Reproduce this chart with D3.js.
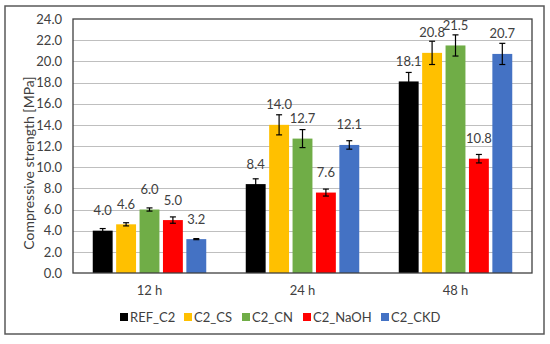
<!DOCTYPE html>
<html>
<head>
<meta charset="utf-8">
<script src="https://cdn.jsdelivr.net/npm/d3@7"></script>
<style>
  html, body { margin: 0; padding: 0; background: #fff; }
  svg { display: block; }
  text { font-family: Lato, "Open Sans", sans-serif; fill: #404040; }
</style>
</head>
<body>
<svg id="chart" width="550" height="344"></svg>
<script>
const categories = ["12 h", "24 h", "48 h"];
const seriesNames = ["REF_C2", "C2_CS", "C2_CN", "C2_NaOH", "C2_CKD"];
const seriesColors = ["#000000", "#FFC000", "#70AD47", "#FF0000", "#4472C4"];
const REF_C2  = [4.0, 8.4, 18.1];
const C2_CS   = [4.6, 14.0, 20.8];
const C2_CN   = [6.0, 12.7, 21.5];
const C2_NaOH = [5.0, 7.6, 10.8];
const C2_CKD  = [3.2, 12.1, 20.7];
const err_REF_C2  = [0.2, 0.5, 0.85];
const err_C2_CS   = [0.15, 0.95, 1.1];
const err_C2_CN   = [0.15, 0.85, 1.0];
const err_C2_NaOH = [0.3, 0.33, 0.4];
const err_C2_CKD  = [0.05, 0.4, 1.0];
const yTicks = [0, 2, 4, 6, 8, 10, 12, 14, 16, 18, 20, 22, 24];
const yTitle = "Compressive strength [MPa]";

const values = [REF_C2, C2_CS, C2_CN, C2_NaOH, C2_CKD];
const errors = [err_REF_C2, err_C2_CS, err_C2_CN, err_C2_NaOH, err_C2_CKD];

const svg = d3.select("#chart");
const plot = { left: 73, top: 19, right: 532, bottom: 273 };

// outer border
svg.append("rect").attr("x", 5).attr("y", 6).attr("width", 539).attr("height", 328)
  .attr("fill", "#fff").attr("stroke", "#595959").attr("stroke-width", 1.5);

const y = d3.scaleLinear().domain([0, 24]).range([plot.bottom, plot.top]);
const x0 = d3.scaleBand().domain(categories).range([plot.left, plot.right]).padding(0);
const x1 = d3.scaleBand().domain(seriesNames)
  .range([19.75, x0.bandwidth() - 19.75]).paddingInner(0.15).paddingOuter(0);

// gridlines
svg.append("g").selectAll("line").data(yTicks.filter(d => d > 0 && d < 24)).join("line")
  .attr("x1", plot.left).attr("x2", plot.right)
  .attr("y1", d => Math.round(y(d)) + 0.5).attr("y2", d => Math.round(y(d)) + 0.5)
  .attr("stroke", "#bfbfbf").attr("stroke-width", 1);

// y axis labels
const yAxis = d3.axisLeft(y).tickValues(yTicks).tickFormat(d3.format(".1f")).tickSize(0).tickPadding(11);
const ya = svg.append("g").attr("transform", `translate(${plot.left},0)`).call(yAxis);
ya.select(".domain").remove();
ya.selectAll("text").style("font-size", "13px").attr("fill", "#404040")
  .style("font-family", "Lato, sans-serif");

// bars
const groups = svg.append("g").selectAll("g").data(categories).join("g")
  .attr("transform", d => `translate(${x0(d)},0)`);

groups.each(function(cat, ci) {
  const g = d3.select(this);
  seriesNames.forEach((s, si) => {
    const v = values[si][ci], e = errors[si][ci];
    const bx = x1(s), bw = x1.bandwidth();
    g.append("rect").attr("x", bx).attr("y", y(v)).attr("width", bw)
      .attr("height", y(0) - y(v)).attr("fill", seriesColors[si]);
    const cx = bx + bw / 2;
    g.append("line").attr("x1", cx).attr("x2", cx).attr("y1", y(v + e)).attr("y2", y(v - e))
      .attr("stroke", "#000").attr("stroke-width", 1.2);
    [v + e, v - e].forEach(t => {
      g.append("line").attr("x1", cx - 3).attr("x2", cx + 3).attr("y1", y(t)).attr("y2", y(t))
        .attr("stroke", "#000").attr("stroke-width", 1.2);
    });
    g.append("text").attr("x", cx).attr("y", y(v) - 15.5).attr("text-anchor", "middle")
      .style("font-size", "13px").text(d3.format(".1f")(v));
  });
});

// plot area border
svg.append("rect").attr("x", plot.left).attr("y", plot.top)
  .attr("width", plot.right - plot.left).attr("height", plot.bottom - plot.top)
  .attr("fill", "none").attr("stroke", "#404040").attr("stroke-width", 1.3);

// x axis labels
const xAxis = d3.axisBottom(x0).tickSize(0).tickPadding(13);
const xa = svg.append("g").attr("transform", `translate(0,${plot.bottom})`).call(xAxis);
xa.select(".domain").remove();
xa.selectAll("text").style("font-size", "13px").attr("fill", "#404040")
  .style("font-family", "Lato, sans-serif");

// y title
svg.append("text").attr("transform", `translate(30,163) rotate(-90)`)
  .attr("text-anchor", "middle").attr("dominant-baseline", "middle")
  .style("font-size", "14px").text(yTitle);

// legend
const legendX = [120, 184, 242, 303, 381];
const lg = svg.append("g").selectAll("g").data(seriesNames).join("g")
  .attr("transform", (d, i) => `translate(${legendX[i]},317)`);
lg.append("rect").attr("x", 0).attr("y", -4).attr("width", 8).attr("height", 8)
  .attr("fill", (d, i) => seriesColors[i]);
lg.append("text").attr("x", 10).attr("y", 0).attr("dominant-baseline", "central")
  .style("font-size", "13px").text(d => d);
</script>
</body>
</html>
